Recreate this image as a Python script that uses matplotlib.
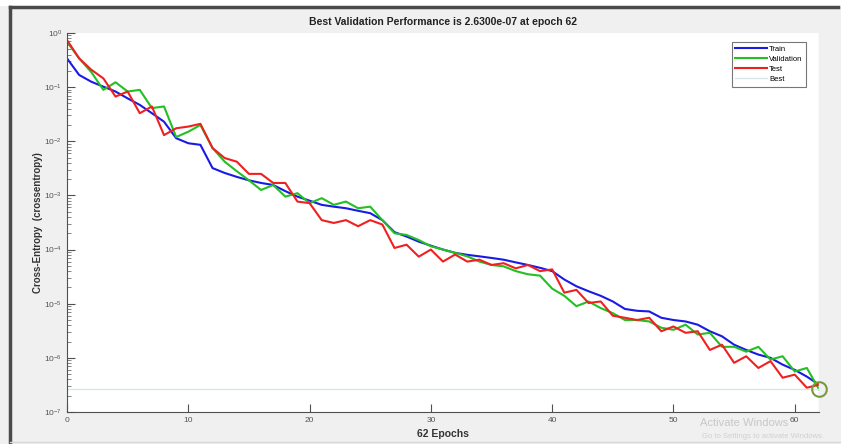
import matplotlib
matplotlib.use("Agg")
import matplotlib.pyplot as plt
from matplotlib.patches import Rectangle
from matplotlib.lines import Line2D
from matplotlib.ticker import LogLocator, NullLocator

plt.rcParams['font.family'] = ['Liberation Sans', 'DejaVu Sans']

# cross-entropy per epoch
epochs = list(range(63))
train = [0.34, 0.168, 0.126, 0.102, 0.083, 0.062, 0.047, 0.033, 0.023, 0.0114,
         0.0092, 0.0086, 0.0032, 0.0026, 0.0022, 0.0019, 0.0017, 0.00156, 0.0012, 0.00095,
         0.0008, 0.00067, 0.00062, 0.00058, 0.00052, 0.00047, 0.00035, 0.00021, 0.000174, 0.00014,
         0.000118, 0.0001, 8.7e-5, 8.0e-5, 7.5e-5, 7.0e-5, 6.5e-5, 5.8e-5, 5.2e-5, 4.6e-5,
         4.0e-5, 2.8e-5, 2.1e-5, 1.7e-5, 1.4e-5, 1.1e-5, 8e-6, 7.4e-6, 7.2e-6, 5.5e-6,
         5e-6, 4.7e-6, 4.1e-6, 3.1e-6, 2.5e-6, 1.75e-6, 1.4e-6, 1.15e-6, 1e-6, 7.5e-7,
         6e-7, 4.5e-7, 3.2e-7]
validation = [0.69, 0.34, 0.19, 0.089, 0.123, 0.083, 0.089, 0.041, 0.044, 0.012,
              0.015, 0.020, 0.0075, 0.0042, 0.0028, 0.0019, 0.00126, 0.00156, 0.00095, 0.0011,
              0.00072, 0.00089, 0.00067, 0.00077, 0.00058, 0.00062, 0.00035, 0.0002, 0.000186, 0.00015,
              0.000115, 0.0001, 8.7e-5, 7.5e-5, 6e-5, 5.2e-5, 4.9e-5, 4e-5, 3.5e-5, 3.3e-5,
              1.9e-5, 1.4e-5, 9e-6, 1.1e-5, 8.3e-6, 6.7e-6, 5e-6, 5e-6, 4.7e-6, 3.6e-6,
              3.3e-6, 4.1e-6, 2.7e-6, 2.9e-6, 1.6e-6, 1.6e-6, 1.3e-6, 1.6e-6, 9.3e-7, 1.07e-6,
              5.6e-7, 6.5e-7, 2.63e-7]
test = [0.74, 0.34, 0.21, 0.145, 0.067, 0.083, 0.033, 0.044, 0.013, 0.0174,
        0.0187, 0.021, 0.0075, 0.0049, 0.0042, 0.0025, 0.0025, 0.0017, 0.0017, 0.00077,
        0.00072, 0.00035, 0.00031, 0.00035, 0.00027, 0.00035, 0.00029, 0.000107, 0.000123, 7.4e-5,
        1e-4, 6e-5, 8.1e-5, 6e-5, 6.5e-5, 5.2e-5, 5.6e-5, 4.5e-5, 5.2e-5, 4e-5,
        4.3e-5, 1.6e-5, 1.8e-5, 1.03e-5, 1.1e-5, 6e-6, 5.5e-6, 5e-6, 5.5e-6, 3.1e-6,
        3.8e-6, 2.9e-6, 3.1e-6, 1.4e-6, 1.75e-6, 8.1e-7, 1.07e-6, 6.5e-7, 8.7e-7, 4.3e-7,
        4.9e-7, 2.8e-7, 3.2e-7]
best_epoch = 62
best_perf = 2.63e-7

W, H = 841, 444
fig = plt.figure(figsize=(W / 100, H / 100), dpi=100)
fig.patch.set_facecolor('#f0f0f0')

# window frame of the screenshot
fig.patches.append(Rectangle((0, (H - 6) / H), 1, 6 / H, transform=fig.transFigure,
                             facecolor='white', edgecolor='none', zorder=0))
fig.add_artist(Line2D([10 / W, 838 / W], [(H - 7) / H, (H - 7) / H], color='#4a4a4a', lw=2.5))
fig.add_artist(Line2D([10 / W, 10 / W], [0, (H - 7) / H], color='#4a4a4a', lw=2.5))
fig.add_artist(Line2D([10 / W, 1], [2 / H, 2 / H], color='#d8d8d8', lw=1))

ax = fig.add_axes([67 / W, (H - 412) / H, (819 - 67) / W, (412 - 33) / H])
ax.set_facecolor('white')

ax.plot(epochs, train, color='#1a1ae6', lw=1.5, label='Train')
ax.plot(epochs, validation, color='#22c022', lw=1.5, label='Validation')
ax.plot(epochs, test, color='#f02020', lw=1.5, label='Test')
ax.axhline(best_perf, color='#d6e8ea', lw=1, label='Best')
ax.axvline(best_epoch, color='#d6e8ea', lw=1)
ax.plot([best_epoch], [best_perf], 'o', mfc='none', mec='#7a9a3a', ms=10.5, mew=1.5,
        clip_on=False)

ax.set_yscale('log')
ax.set_xlim(0, 62)
ax.set_ylim(1e-7, 1)
ax.set_xticks([0, 10, 20, 30, 40, 50, 60])
ax.xaxis.set_minor_locator(NullLocator())
ax.yaxis.set_major_locator(LogLocator(base=10, numticks=10))
ax.yaxis.set_minor_locator(LogLocator(base=10, subs=range(2, 10), numticks=10))

for s in ['top', 'right']:
    ax.spines[s].set_visible(False)
for s in ['left', 'bottom']:
    ax.spines[s].set_color('#505050')
    ax.spines[s].set_linewidth(0.8)
ax.tick_params(which='major', direction='in', length=6, width=0.8, colors='#505050',
               labelsize=6, labelcolor='#555555')
ax.tick_params(which='minor', direction='in', length=3, width=0.6, colors='#707070')

ax.set_title('Best Validation Performance is 2.6300e-07 at epoch 62',
             fontsize=7.5, fontweight='bold', color='#222222', pad=6)
ax.set_xlabel('62 Epochs', fontsize=7.5, fontweight='bold', color='#333333', labelpad=4)
ax.set_ylabel('Cross-Entropy  (crossentropy)', fontsize=7, fontweight='bold', color='#333333',
              labelpad=1)

leg = ax.legend(loc='upper right', bbox_to_anchor=(810 / W, (H - 38) / H),
                bbox_transform=fig.transFigure, fontsize=5.5, frameon=True, fancybox=False,
                handlelength=4.2, handletextpad=0.2, borderpad=0.5, labelspacing=0.35)
leg.get_frame().set_edgecolor('#555555')
leg.get_frame().set_linewidth(0.8)

# faint windows watermark
fig.text(700 / W, (H - 423) / H, 'Activate Windows', fontsize=8, color='#c8c8c8', va='center')
fig.text(702 / W, (H - 436) / H, 'Go to Settings to activate Windows.', fontsize=5.5,
         color='#d0d0d0', va='center')

fig.savefig('out.png', dpi=100, facecolor=fig.get_facecolor())
